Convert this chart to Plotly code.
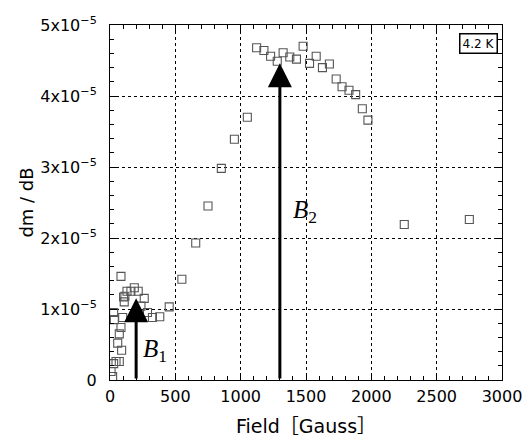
import plotly.graph_objects as go

# Field (Gauss) and differential magnetization dm/dB at 4.2 K
field = [8, 20, 28, 28, 33, 46, 59, 71, 71, 84, 84, 89, 97, 104, 109, 114, 130, 160, 186, 216,
         237, 262, 287, 325, 381, 453, 550, 656, 750, 852, 952, 1051,
         1122, 1178, 1229, 1280, 1325, 1376, 1427, 1478, 1527, 1578, 1626, 1679,
         1731, 1776, 1829, 1880, 1931, 1974, 2252, 2750]
dmdb = [0.12e-5, 0.05e-5, 0.23e-5, 0.95e-5, 0.85e-5, 0.26e-5, 0.52e-5, 0.65e-5, 0.26e-5, 0.74e-5,
        1.46e-5, 0.42e-5, 0.88e-5, 1.17e-5, 1.10e-5, 1.18e-5, 1.25e-5, 1.25e-5, 1.30e-5, 1.25e-5,
        1.04e-5, 1.15e-5, 0.95e-5, 0.88e-5, 0.89e-5, 1.03e-5, 1.42e-5, 1.93e-5, 2.45e-5, 2.98e-5,
        3.39e-5, 3.70e-5,
        4.68e-5, 4.64e-5, 4.56e-5, 4.49e-5, 4.61e-5, 4.55e-5, 4.52e-5, 4.70e-5, 4.46e-5, 4.56e-5,
        4.40e-5, 4.45e-5, 4.24e-5, 4.13e-5, 4.08e-5, 4.02e-5, 3.82e-5, 3.66e-5, 2.19e-5, 2.26e-5]

# Characteristic fields marked with arrows
arrow_x = [200, 1300]
arrow_tip = [1.15e-5, 4.46e-5]
arrow_names = ["<i>B</i><sub>1</sub>", "<i>B</i><sub>2</sub>"]
label_pos = [(345, 0.41e-5), (1490, 2.38e-5)]

y_tickvals = [0, 1e-5, 2e-5, 3e-5, 4e-5, 5e-5]
y_ticktext = ["0"] + [f"{i}x10<sup>−5</sup>" for i in range(1, 6)]
x_tickvals = [0, 500, 1000, 1500, 2000, 2500, 3000]

font_main = "DejaVu Sans, Noto Sans CJK JP, sans-serif"

fig = go.Figure()
fig.add_trace(go.Scatter(
    x=field, y=dmdb, mode="markers",
    marker=dict(symbol="square-open", size=8, color="#555555", line=dict(width=1.1)),
    showlegend=False,
))

for xa, tip, name, (lx, ly) in zip(arrow_x, arrow_tip, arrow_names, label_pos):
    fig.add_annotation(
        x=xa, y=tip, ax=xa, ay=0, xref="x", yref="y", axref="x", ayref="y",
        showarrow=True, arrowhead=2, arrowsize=1.6, arrowwidth=3, arrowcolor="black",
        text="", standoff=0, startstandoff=0,
    )
    fig.add_annotation(
        x=lx, y=ly, xref="x", yref="y", text=name, showarrow=False,
        font=dict(family="Liberation Serif, Times New Roman, serif", size=25, color="black"),
    )

fig.add_annotation(
    x=0.99, y=0.977, xref="paper", yref="paper", xanchor="right", yanchor="top",
    text="4.2 K", showarrow=False, bordercolor="black", borderwidth=1.5, borderpad=2,
    bgcolor="white", font=dict(family=font_main, size=12, color="black"),
)

axis_common = dict(
    showline=True, linecolor="black", linewidth=1, mirror="allticks",
    ticks="inside", ticklen=7, tickcolor="black", automargin=False,
    showgrid=True, gridcolor="black", gridwidth=1, griddash="dot",
    zeroline=False, tickfont=dict(family=font_main, size=16, color="black"),
)

fig.update_xaxes(
    range=[0, 3000], tickvals=x_tickvals,
    minor=dict(dtick=100, ticks="inside", ticklen=4, tickcolor="black", showgrid=False),
    title=dict(text="Field［Gauss］", font=dict(family=font_main, size=19, color="black"), standoff=14),
    ticklabelstandoff=2,
    **axis_common,
)
fig.update_yaxes(
    range=[0, 5e-5], tickvals=y_tickvals, ticktext=y_ticktext,
    minor=dict(dtick=2e-6, ticks="inside", ticklen=4, tickcolor="black", showgrid=False),
    title=dict(text="dm / dB", font=dict(family=font_main, size=18, color="black"), standoff=1),
    ticklabelstandoff=9,
    **axis_common,
)

fig.update_layout(
    width=524, height=441,
    margin=dict(l=110, r=22, t=25, b=61),
    paper_bgcolor="white", plot_bgcolor="white",
)

fig.write_html("out.html")
